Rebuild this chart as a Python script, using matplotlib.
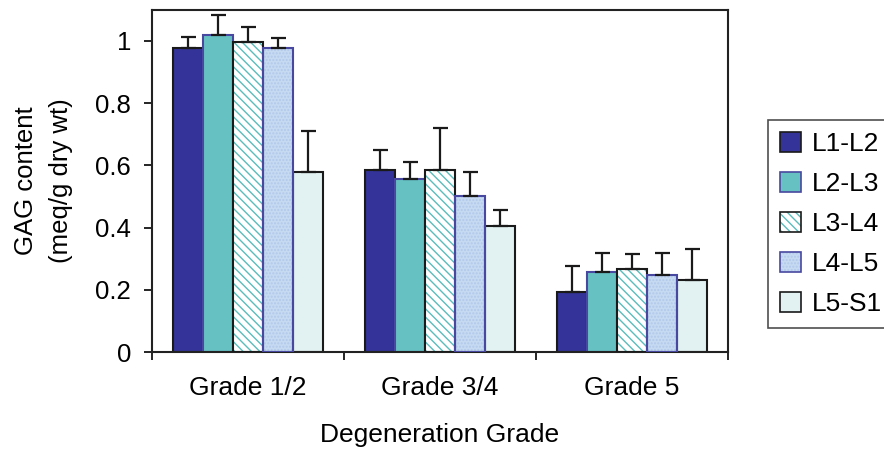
import matplotlib as mpl
mpl.use('Agg')
import matplotlib.pyplot as plt
from matplotlib.patches import Patch
from matplotlib.legend_handler import HandlerTuple
import numpy as np

plt.rcParams['font.family'] = ['Liberation Sans', 'DejaVu Sans']

grades = ['Grade 1/2', 'Grade 3/4', 'Grade 5']
levels = ['L1-L2', 'L2-L3', 'L3-L4', 'L4-L5', 'L5-S1']
gag = [
    [0.977, 0.585, 0.194],   # L1-L2
    [1.019, 0.555, 0.258],   # L2-L3
    [0.998, 0.585, 0.266],   # L3-L4
    [0.976, 0.500, 0.248],   # L4-L5
    [0.580, 0.405, 0.232],   # L5-S1
]
gag_err = [
    [0.035, 0.064, 0.084],
    [0.064, 0.056, 0.060],
    [0.048, 0.134, 0.050],
    [0.035, 0.080, 0.070],
    [0.130, 0.050, 0.100],
]

# fill, hatch, hatch colour, edge colour per series
styles = [
    ('#333399', None, None, '#1a1a1a'),
    ('#66c2c2', None, None, '#4848a0'),
    ('white', '\\\\\\\\', '#5bbcbc', '#1a1a1a'),
    ('#c6daf2', '.....', '#b2c8ea', '#4848a0'),
    ('#e2f2f2', None, None, '#1a1a1a'),
]

fig = plt.figure(figsize=(8.84, 4.49), dpi=100)
ax = fig.add_axes([0.172, 0.216, 0.6515, 0.762])

x = np.arange(len(grades))
w = 0.156
for i, name in enumerate(levels):
    pos = x + (i - 2) * w
    face, hatch, hcol, edge = styles[i]
    if hatch:
        ax.bar(pos, gag[i], w, color=face, edgecolor=hcol, hatch=hatch, linewidth=0, zorder=2)
        ax.bar(pos, gag[i], w, fill=False, edgecolor=edge, linewidth=1.5, zorder=3)
    else:
        ax.bar(pos, gag[i], w, color=face, edgecolor=edge, linewidth=1.5, zorder=2)
    ax.errorbar(pos, gag[i], yerr=[np.zeros(3), gag_err[i]], fmt='none',
                ecolor='#1a1a1a', elinewidth=1.6, capsize=5.4, capthick=1.6, zorder=4)

ax.set_xlim(-0.5, 2.5)
ax.set_ylim(0, 1.1)
ax.set_yticks([0, 0.2, 0.4, 0.6, 0.8, 1.0])
ax.set_yticklabels(['0', '0.2', '0.4', '0.6', '0.8', '1'])
ax.set_xticks(x)
ax.set_xticklabels(grades)
ax.set_xticks([-0.5, 0.5, 1.5, 2.5], minor=True)
ax.tick_params(axis='x', which='major', length=0, pad=17, labelsize=19)
ax.tick_params(axis='x', which='minor', length=6, width=1.2, direction='out')
ax.tick_params(axis='y', length=6, width=1.2, direction='out', pad=9, labelsize=18.5)
for s in ax.spines.values():
    s.set_linewidth(1.5)
    s.set_color('#222222')

ax.set_xlabel('Degeneration Grade', fontsize=19, labelpad=17)
ax.set_ylabel('GAG content\n(meq/g dry wt)', fontsize=18.5, labelpad=16, linespacing=1.6)

handles = []
for i, name in enumerate(levels):
    face, hatch, hcol, edge = styles[i]
    if hatch:
        handles.append((Patch(facecolor=face, edgecolor=hcol, hatch=hatch, linewidth=0),
                        Patch(fill=False, edgecolor=edge, linewidth=1.2)))
    else:
        handles.append(Patch(facecolor=face, edgecolor=edge, linewidth=1.2))
leg = fig.legend(handles=handles, labels=levels, loc='upper left',
                 bbox_to_anchor=(0.869, 0.733),
                 handler_map={tuple: HandlerTuple(ndivide=1, pad=0)},
                 fontsize=19, frameon=True, fancybox=False, edgecolor='#222222',
                 handlelength=0.8, handleheight=0.8, handletextpad=0.4,
                 labelspacing=0.6, borderpad=0.45, borderaxespad=0)
leg.get_frame().set_linewidth(1.2)

plt.savefig('out.png', dpi=100)
